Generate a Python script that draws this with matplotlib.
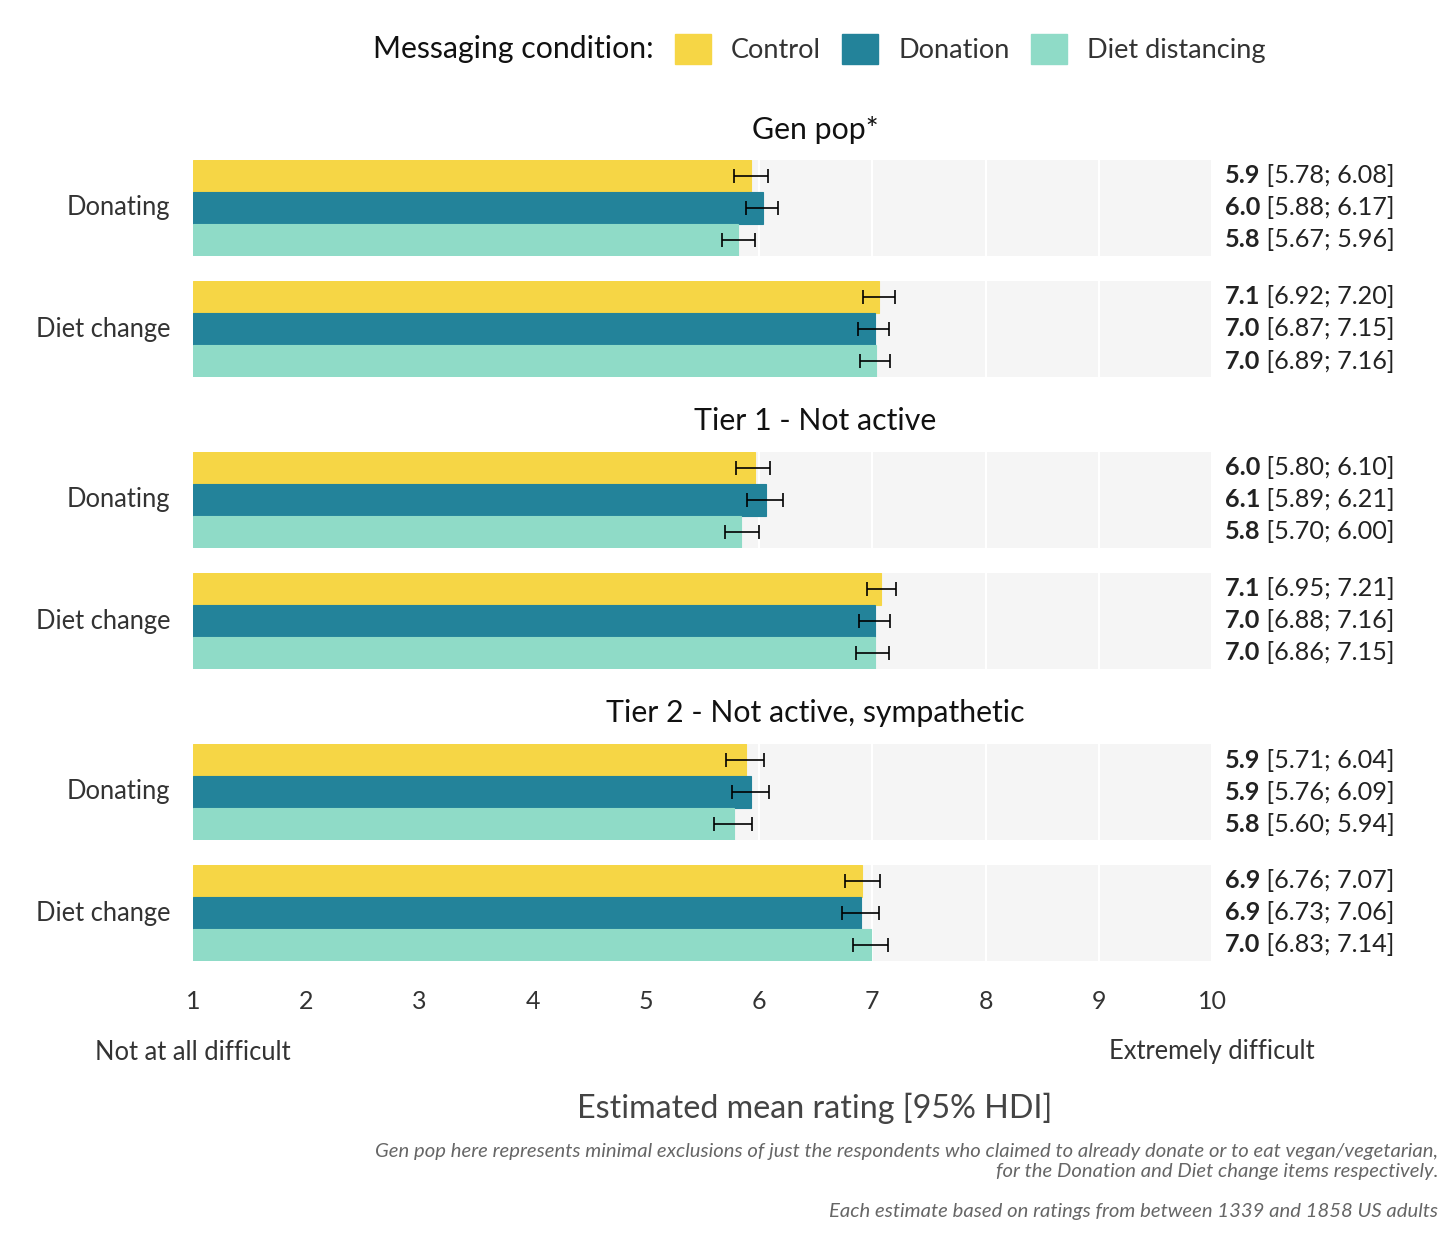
import matplotlib.pyplot as plt
import numpy as np

plt.rcParams['font.family'] = ['Lato', 'DejaVu Sans']

# data
panels = ['Gen pop*', 'Tier 1 - Not active', 'Tier 2 - Not active, sympathetic']
items = ['Donating', 'Diet change']
conditions = ['Control', 'Donation', 'Diet distancing']
colors = ['#F6D645', '#23839A', '#8FDBC7']

# mean per panel, item, condition
means = [
    [[5.93, 6.03, 5.81], [7.06, 7.02, 7.03]],
    [[5.96, 6.06, 5.84], [7.08, 7.02, 7.02]],
    [[5.88, 5.93, 5.78], [6.91, 6.90, 6.99]],
]
lo = [
    [[5.78, 5.88, 5.67], [6.92, 6.87, 6.89]],
    [[5.80, 5.89, 5.70], [6.95, 6.88, 6.86]],
    [[5.71, 5.76, 5.60], [6.76, 6.73, 6.83]],
]
hi = [
    [[6.08, 6.17, 5.96], [7.20, 7.15, 7.16]],
    [[6.10, 6.21, 6.00], [7.21, 7.16, 7.15]],
    [[6.04, 6.09, 5.94], [7.07, 7.06, 7.14]],
]
xticks = np.arange(1, 11)

W, H = 1456, 1239
fig = plt.figure(figsize=(W / 100, H / 100), dpi=100)

X0, X1 = 193, 1212
group_tops = [[160, 281], [452, 573], [744, 865]]
GROUP_H = 96
title_y = [130, 421, 713]
CENTER_X = 815 / W

ax_last = None
for p, panel in enumerate(panels):
    fig.text(CENTER_X, 1 - title_y[p] / H, panel, ha='center', va='center',
             fontsize=21.8, color='#111111')
    for g, item in enumerate(items):
        top = group_tops[p][g]
        ax = fig.add_axes([X0 / W, 1 - (top + GROUP_H) / H, (X1 - X0) / W, GROUP_H / H])
        ax.set_facecolor('#F5F5F5')
        for s in ax.spines.values():
            s.set_visible(False)
        ax.set_xlim(1, 10)
        ax.set_ylim(2.5, -0.5)
        ax.set_xticks(xticks)
        ax.set_yticks([])
        ax.grid(axis='x', color='white', linewidth=1.5)
        ax.set_axisbelow(True)
        ax.tick_params(axis='x', length=0, labelbottom=False)
        m = means[p][g]
        l = lo[p][g]
        h = hi[p][g]
        for c in range(3):
            ax.barh(c, m[c] - 1, left=1, height=1.0, color=colors[c],
                    edgecolor=colors[c], linewidth=0.8, zorder=2)
            ax.errorbar(m[c], c, xerr=[[m[c] - l[c]], [h[c] - m[c]]], fmt='none',
                        ecolor='black', elinewidth=1.2, capsize=5, capthick=1.2, zorder=3)
            t = ax.text(1.0125, c, f'{m[c]:.1f}', transform=ax.get_yaxis_transform(),
                        ha='left', va='center', fontsize=18.2, fontweight='bold',
                        color='#222222', clip_on=False)
            ax.annotate(f' [{l[c]:.2f}; {h[c]:.2f}]', xy=(1, 0), xycoords=t,
                        ha='left', va='bottom', fontsize=18.2, color='#222222',
                        annotation_clip=False)
        ax.text(-0.022, 0.5, item, transform=ax.transAxes, ha='right', va='center',
                fontsize=18.4, color='#333333')
        ax_last = ax

ax_last.tick_params(axis='x', labelbottom=True, pad=21, labelsize=18, labelcolor='#333333')

fig.text(X0 / W, 1 - 1052 / H, 'Not at all difficult', ha='center', va='center',
         fontsize=18.4, color='#333333')
fig.text(X1 / W, 1 - 1052 / H, 'Extremely difficult', ha='center', va='center',
         fontsize=18.4, color='#333333')
fig.text(CENTER_X, 1 - 1108 / H, 'Estimated mean rating [95% HDI]', ha='center',
         va='center', fontsize=23.2, color='#444444')

cap_kw = dict(ha='right', va='center', fontsize=14.6, style='italic', color='#666666')
fig.text(1438 / W, 1 - 1152 / H,
         'Gen pop here represents minimal exclusions of just the respondents who claimed '
         'to already donate or to eat vegan/vegetarian,', **cap_kw)
fig.text(1438 / W, 1 - 1171 / H,
         'for the Donation and Diet change items respectively.', **cap_kw)
fig.text(1438 / W, 1 - 1211 / H,
         'Each estimate based on ratings from between 1339 and 1858 US adults', **cap_kw)

# legend
fig.text(373 / W, 1 - 49 / H, 'Messaging condition:', ha='left', va='center',
         fontsize=21.8, color='#111111')
handles = [plt.Rectangle((0, 0), 1, 1, facecolor=c, edgecolor=c) for c in colors]
fig.legend(handles, conditions, loc='center left', bbox_to_anchor=(675 / W, 1 - 49 / H),
           ncol=3, frameon=False, fontsize=19.5, handlelength=1.33, handleheight=1.33,
           handletextpad=0.74, columnspacing=0.78, borderpad=0, borderaxespad=0,
           labelcolor='#333333')

fig.savefig('out.png', dpi=100, facecolor='white')
